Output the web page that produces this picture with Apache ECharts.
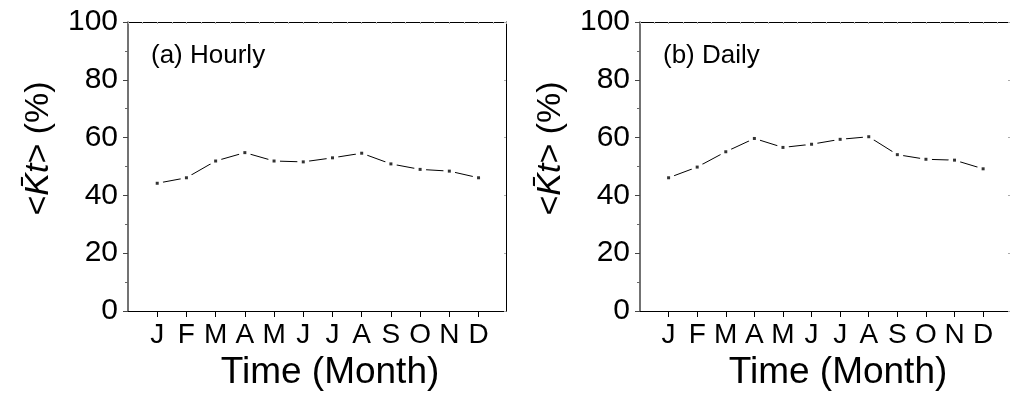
<!DOCTYPE html>
<html>
<head>
<meta charset="utf-8">
<script src="https://cdn.jsdelivr.net/npm/echarts@6/dist/echarts.min.js"></script>
<style>html,body{margin:0;padding:0;background:#fff}#c{width:1010px;height:397px}</style>
</head>
<body>
<div id="c"></div>
<script>
const monthLabels = ['J','F','M','A','M','J','J','A','S','O','N','D'];
const monthPos = [1,2,3,4,5,6,7,8,9,10,11,12];
const hourly = [44.2, 46.1, 51.9, 54.8, 51.9, 51.6, 53.0, 54.6, 50.9, 49.0, 48.4, 46.1];
const daily  = [46.1, 49.8, 55.1, 59.7, 56.6, 57.7, 59.4, 60.3, 54.1, 52.5, 52.2, 49.2];
const yTicks = [0, 20, 40, 60, 80, 100];
const panelTitles = ['(a) Hourly', '(b) Daily'];

const FONT = '"Liberation Sans", Arial, Helvetica, sans-serif';
const chart = echarts.init(document.getElementById('c'));

const grids = [
  {left: 128, top: 22, width: 378, height: 289},
  {left: 640, top: 22, width: 378, height: 289}
];

function pairs(vals){ return vals.map((v,i)=>[monthPos[i], v]); }

const xAxes = [], yAxes = [], series = [], titles = [];
[hourly, daily].forEach((vals, g) => {
  xAxes.push({
    type:'value', gridIndex:g, min:0, max:12.94, interval:1,
    axisLine:{show:true, onZero:false, lineStyle:{color:'#000', width:1}},
    axisTick:{show:true, length:6, customValues: monthPos, lineStyle:{color:'#000', width:1}},
    minorTick:{show:false},
    splitLine:{show:false},
    axisLabel:{customValues: monthPos, formatter: v => monthLabels[Math.round(v)-1] || '',
      color:'#000', fontSize:28, fontFamily:FONT, margin:10},
    name:'Time (Month)', nameLocation:'middle', nameGap:43,
    nameTextStyle:{color:'#000', fontSize:37, fontFamily:FONT, padding:[0,0,0,26]}
  });
  xAxes.push({
    type:'value', gridIndex:g, position:'top', min:0, max:12.94, interval:1,
    axisLine:{show:true, onZero:false, lineStyle:{color:'#000', width:1}},
    axisTick:{show:true, inside:true, length:2, lineStyle:{color:'#aaa'}},
    minorTick:{show:true, splitNumber:2, length:2, lineStyle:{color:'#bbb'}},
    splitLine:{show:false}, axisLabel:{show:false}
  });
  yAxes.push({
    type:'value', gridIndex:g, min:0, max:100, interval:20,
    axisLine:{show:true, onZero:false, lineStyle:{color:'#444', width:1.5}},
    axisTick:{show:true, length:5, lineStyle:{color:'#444', width:1}},
    minorTick:{show:true, splitNumber:2, length:3, lineStyle:{color:'#666', width:1}},
    splitLine:{show:false},
    axisLabel:{color:'#000', fontSize:30, fontFamily:FONT, margin:10},
    name:'<{k|K\u0304t}> (%)', nameLocation:'middle', nameGap:72,
    nameTextStyle:{color:'#000', fontSize:34, fontFamily:FONT, padding:[0,0,0,36],
      rich:{k:{fontStyle:'italic', fontSize:34, fontFamily:FONT, color:'#000'}}}
  });
  yAxes.push({
    type:'value', gridIndex:g, position:'right', min:0, max:100, interval:20,
    axisLine:{show:true, onZero:false, lineStyle:{color:'#000', width:1}},
    axisTick:{show:true, inside:true, length:2, lineStyle:{color:'#aaa'}},
    minorTick:{show:false},
    splitLine:{show:false}, axisLabel:{show:false}
  });
  series.push({
    type:'line', xAxisIndex:2*g, yAxisIndex:2*g, data:pairs(vals),
    symbol:'circle', symbolSize:12, itemStyle:{color:'#fff', borderWidth:0},
    lineStyle:{color:'#000', width:1}, z:2, animation:false, silent:true
  });
  series.push({
    type:'scatter', xAxisIndex:2*g, yAxisIndex:2*g, data:pairs(vals),
    symbol:'rect', symbolSize:3, itemStyle:{color:'#000'}, z:3, animation:false, silent:true
  });
});

titles.push({text:panelTitles[0], left:146, top:38, textStyle:{color:'#000', fontSize:26, fontWeight:'normal', fontFamily:FONT}});
titles.push({text:panelTitles[1], left:658, top:38, textStyle:{color:'#000', fontSize:26, fontWeight:'normal', fontFamily:FONT}});

chart.setOption({
  backgroundColor:'#fff',
  animation:false,
  title: titles,
  grid: grids,
  xAxis: xAxes,
  yAxis: yAxes,
  series: series
});
</script>
</body>
</html>
